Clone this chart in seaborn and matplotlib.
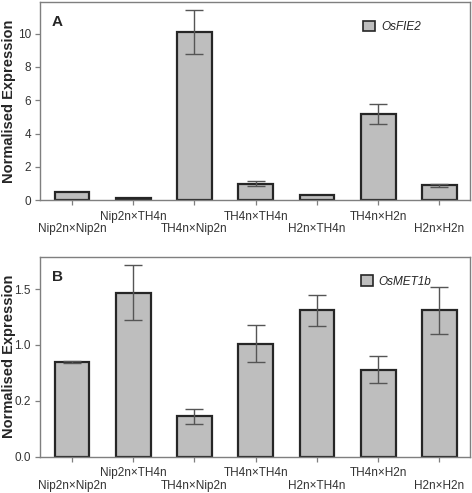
import numpy as np
import pandas as pd
import seaborn as sns
import matplotlib
import matplotlib.pyplot as plt
from matplotlib.patches import Patch

matplotlib.use('Agg')
sns.set_style('white')
plt.rcParams['font.family'] = ['Liberation Sans', 'DejaVu Sans']

crosses = ["Nip2n×Nip2n", "Nip2n×TH4n", "TH4n×Nip2n", "TH4n×TH4n",
           "H2n×TH4n", "TH4n×H2n", "H2n×H2n"]

fie2_mean = [0.46, 0.15, 10.08, 1.0, 0.28, 5.17, 0.9]
fie2_err = [0.0, 0.0, 1.33, 0.16, 0.0, 0.62, 0.1]

met1b_mean = [0.85, 1.47, 0.36, 1.01, 1.31, 0.78, 1.31]
met1b_err = [0.01, 0.25, 0.07, 0.165, 0.14, 0.12, 0.21]

BAR = "#bebebe"
EDGE = "#262626"
GREY = "#7f7f7f"


def draw_panel(ax, means, errs, gene, letter, ylim, yticks, yticklabels, leg_x):
    df = pd.DataFrame({"Cross": crosses, "Expression": means})
    sns.barplot(data=df, x="Cross", y="Expression", ax=ax, color=BAR,
                edgecolor=EDGE, linewidth=1.6, width=0.57, errorbar=None,
                saturation=1)
    x = np.arange(len(crosses))
    e = np.array(errs)
    m = np.array(means)
    mask = e > 0
    ax.errorbar(x[mask], m[mask], yerr=e[mask], fmt='none', ecolor="#555555",
                elinewidth=1.0, capsize=6.5, capthick=1.0, zorder=5)
    ax.set_xlim(-0.52, 6.5)
    ax.set_ylim(*ylim)
    ax.set_yticks(yticks)
    ax.set_yticklabels(yticklabels)
    ax.set_xlabel("")
    ax.set_ylabel("Normalised Expression", fontsize=10.5, fontweight='bold')
    for s in ax.spines.values():
        s.set_color(GREY)
        s.set_linewidth(1.0)
        s.set_visible(True)
    ax.tick_params(axis='both', which='both', direction='out', length=3.6,
                   width=0.9, color=GREY, labelsize=8.5, labelcolor="#333333",
                   bottom=True, left=True, pad=3)
    for i, t in enumerate(ax.xaxis.get_major_ticks()):
        t.set_pad(4 if i % 2 else 13)
    ax.text(0.027, 0.9, letter, transform=ax.transAxes, fontsize=11,
            fontweight='bold', ha='left', va='center')
    handle = Patch(facecolor=BAR, edgecolor=EDGE, linewidth=1.2)
    ax.legend(handles=[handle], labels=[gene], loc='upper right',
              bbox_to_anchor=(leg_x, 0.96), frameon=False,
              prop={'style': 'italic', 'size': 8.5},
              handlelength=1.0, handleheight=1.0, handletextpad=0.5)


fig = plt.figure(figsize=(4.72, 4.93), dpi=100)
ax1 = fig.add_axes([0.085, 0.594, 0.911, 0.402])
ax2 = fig.add_axes([0.085, 0.074, 0.911, 0.405])

draw_panel(ax1, fie2_mean, fie2_err, "OsFIE2", "A", (0, 11.9),
           [0, 2, 4, 6, 8, 10], ["0", "2", "4", "6", "8", "10"], 0.91)
draw_panel(ax2, met1b_mean, met1b_err, "OsMET1b", "B", (0, 1.79),
           [0, 0.5, 1.0, 1.5], ["0.0", "0.2", "1.0", "1.5"], 0.935)

ax1.yaxis.set_label_coords(-0.057, 0.5)
ax2.yaxis.set_label_coords(-0.057, 0.5)

fig.savefig("out.png", dpi=100)
